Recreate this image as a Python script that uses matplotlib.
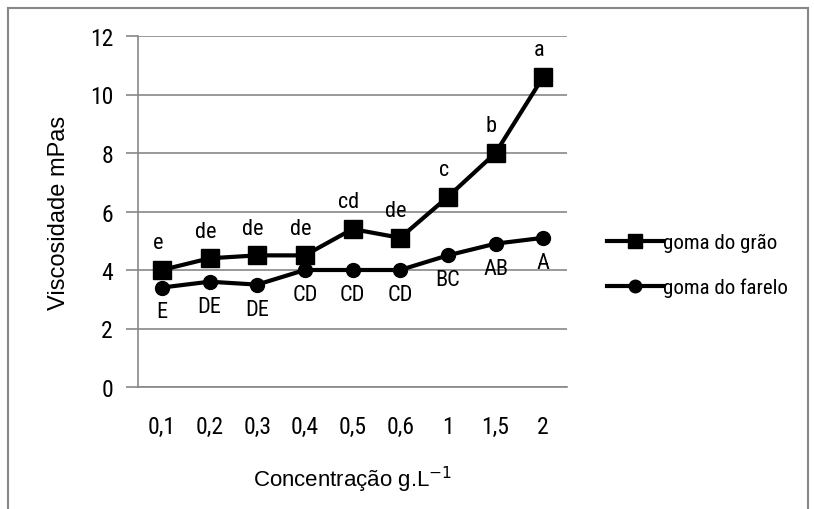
import matplotlib
matplotlib.use("Agg")
import matplotlib.pyplot as plt
from matplotlib.lines import Line2D
from matplotlib import font_manager

categories = ["0,1", "0,2", "0,3", "0,4", "0,5", "0,6", "1", "1,5", "2"]
grao = [4.0, 4.4, 4.5, 4.5, 5.4, 5.1, 6.5, 8.0, 10.6]
farelo = [3.4, 3.6, 3.5, 4.0, 4.0, 4.0, 4.5, 4.9, 5.1]
grao_letters = ["e", "de", "de", "de", "cd", "de", "c", "b", "a"]
farelo_letters = ["E", "DE", "DE", "CD", "CD", "CD", "BC", "AB", "A"]
yticks = [0, 2, 4, 6, 8, 10, 12]

names = {f.name for f in font_manager.fontManager.ttflist}
narrow = "DejaVu Sans"
for cand in ["Liberation Sans Narrow", "Roboto Condensed", "Archivo Narrow", "Asap Condensed"]:
    if cand in names:
        narrow = cand
        break
arial = "Liberation Sans"

fig = plt.figure(figsize=(8.14, 5.10), dpi=100)
ax = fig.add_axes([138/814, 1-388/510, (567-138)/814, (388-37)/510])

x = list(range(len(categories)))
grid_c = "#878787"
ax.set_ylim(0, 12)
ax.set_xlim(-0.5, len(categories)-0.5)
ax.set_yticks(yticks)
ax.yaxis.grid(True, color=grid_c, linewidth=1.2)
ax.set_axisbelow(True)
for s in ["top", "right"]:
    ax.spines[s].set_visible(False)
ax.spines["left"].set_color(grid_c)
ax.spines["bottom"].set_color(grid_c)
ax.spines["left"].set_linewidth(1.2)
ax.spines["bottom"].set_linewidth(1.2)
ax.tick_params(axis="y", length=9, color=grid_c, width=1.2, pad=9, labelsize=17)
ax.tick_params(axis="x", length=0, pad=20, labelsize=17)
ax.set_xticks(x)
ax.set_xticklabels(categories)
for lab in ax.get_xticklabels() + ax.get_yticklabels():
    lab.set_family(narrow)

ax.plot(x, grao, color="black", linewidth=3, marker="s", markersize=13, label="goma do grão")
ax.plot(x, farelo, color="black", linewidth=3, marker="o", markersize=10, label="goma do farelo")

for xi, yi, t in zip(x, grao, grao_letters):
    ax.annotate(t, (xi, yi), xytext=(-3, 12), textcoords="offset points",
                ha="center", va="bottom", fontsize=16, family=narrow)
for xi, yi, t in zip(x, farelo, farelo_letters):
    ax.annotate(t, (xi, yi), xytext=(0, -10), textcoords="offset points",
                ha="center", va="top", fontsize=16, family=narrow)

ax.set_ylabel("Viscosidade mPas", fontsize=17, family=arial, labelpad=14)
ax.set_xlabel("Concentração g.L$^{-1}$", fontsize=16, family=arial, labelpad=19)

handles = [Line2D([], [], color="black", linewidth=3, marker="s", markersize=10),
           Line2D([], [], color="black", linewidth=3, marker="o", markersize=9)]
fig.legend(handles, ["goma do grão", "goma do farelo"], loc="center left",
           bbox_to_anchor=(588/814, 1-266/510), frameon=False,
           prop={"family": narrow, "size": 15}, handlelength=2.7, handletextpad=0.0,
           labelspacing=1.2)

# figure border
kw = dict(transform=fig.transFigure, color="#888888", lw=1.5)
fig.add_artist(Line2D([8/814, 8/814], [0, 1-9/510], **kw))
fig.add_artist(Line2D([8/814, 808/814], [1-9/510, 1-9/510], **kw))
fig.add_artist(Line2D([808/814, 808/814], [0, 1-9/510], **kw))

fig.savefig("out.png", dpi=100)
